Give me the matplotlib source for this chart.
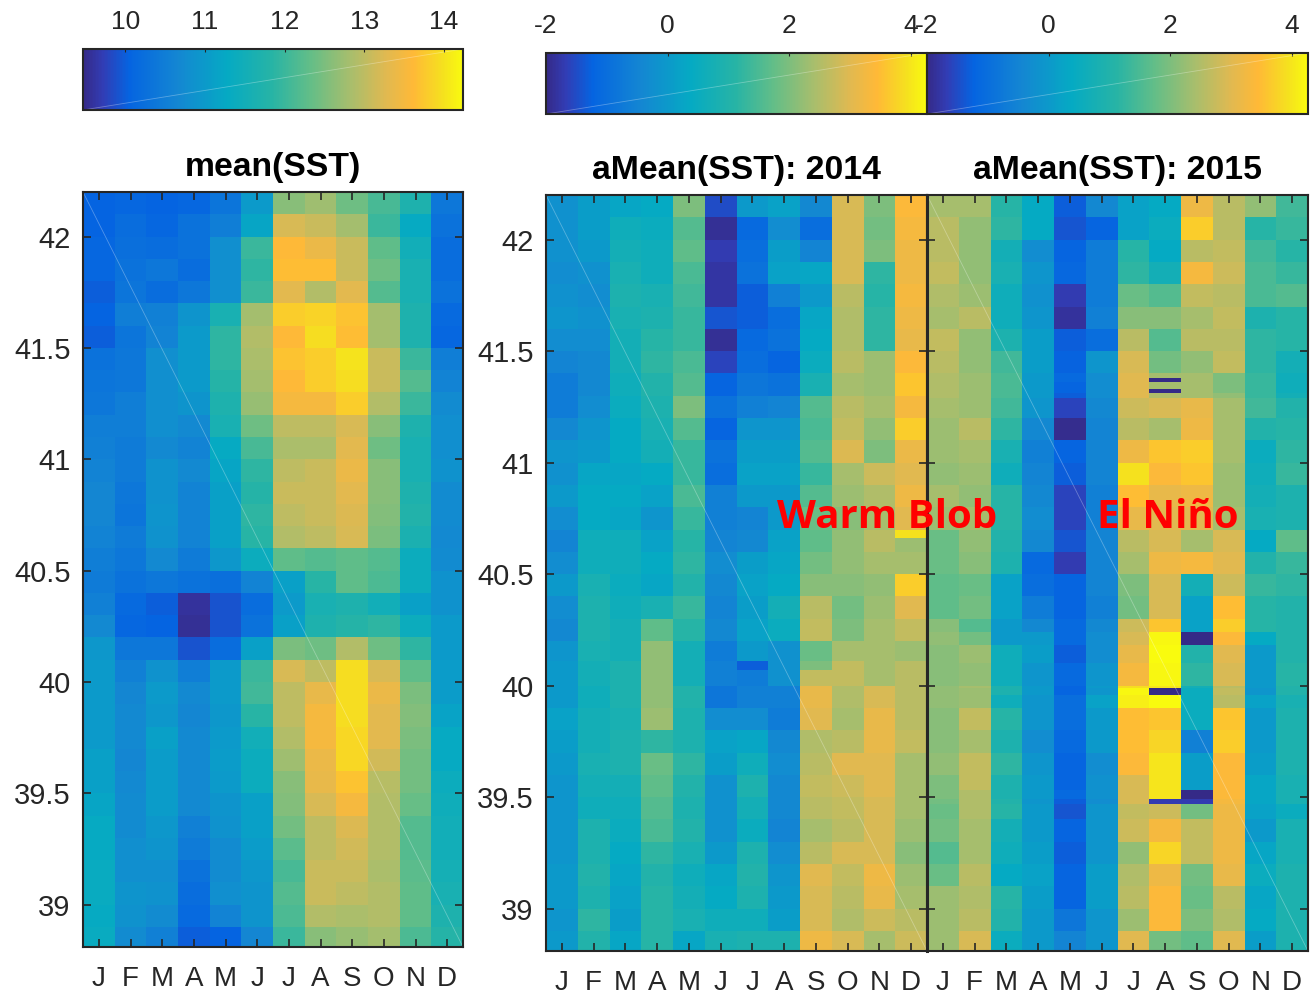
import matplotlib
matplotlib.use("Agg")
import matplotlib.pyplot as plt
from matplotlib.cm import ScalarMappable
from matplotlib.colors import LinearSegmentedColormap, Normalize

plt.rcParams["font.family"] = ["Liberation Sans", "DejaVu Sans"]

# Data
months = ["J", "F", "M", "A", "M", "J", "J", "A", "S", "O", "N", "D"]
lat_ticks = [39, 39.5, 40, 40.5, 41, 41.5, 42]
lat_labels = ["39", "39.5", "40", "40.5", "41", "41.5", "42"]

lat_edges = [42.2, 42.1, 42.0, 41.9, 41.8, 41.7, 41.6, 41.5, 41.4, 41.3, 41.2, 41.1,
             41.0, 40.9, 40.8, 40.7, 40.6, 40.5, 40.4, 40.3, 40.2, 40.1, 40.0, 39.9,
             39.8, 39.7, 39.6, 39.5, 39.4, 39.3, 39.2, 39.1, 39.0, 38.9, 38.8]

sst_mean = [
    [10.05, 10.1, 10.05, 10.1, 10.35, 11.0, 12.6, 12.75, 12.4, 12.1, 11.7, 10.4],
    [10.05, 10.2, 10.1, 10.3, 10.5, 11.2, 13.2, 13.1, 12.8, 12.0, 11.3, 10.3],
    [10.1, 10.25, 10.2, 10.3, 10.8, 12.0, 13.6, 13.4, 13.1, 12.3, 11.5, 10.2],
    [10.1, 10.3, 10.4, 10.2, 10.8, 11.9, 13.65, 13.65, 13.1, 12.4, 11.6, 10.2],
    [10.0, 10.35, 10.2, 10.4, 10.8, 12.0, 13.3, 12.9, 13.3, 12.2, 11.6, 10.3],
    [10.05, 10.5, 10.55, 10.9, 11.6, 12.8, 13.8, 13.85, 13.7, 12.8, 11.7, 10.15],
    [10.0, 10.35, 10.6, 11.0, 11.9, 12.9, 13.6, 13.95, 13.65, 12.8, 11.7, 10.1],
    [10.3, 10.4, 10.8, 11.0, 11.9, 12.85, 13.7, 13.8, 14.0, 13.1, 12.0, 10.5],
    [10.35, 10.4, 10.8, 11.0, 11.8, 12.8, 13.6, 13.8, 13.95, 13.1, 12.2, 10.6],
    [10.4, 10.5, 10.8, 10.9, 11.7, 12.7, 13.5, 13.5, 13.8, 12.9, 12.0, 10.75],
    [10.5, 10.5, 10.8, 10.7, 11.6, 12.4, 13.0, 13.0, 13.2, 12.6, 11.7, 10.8],
    [10.55, 10.45, 10.7, 10.6, 11.3, 12.1, 12.85, 12.85, 13.3, 12.4, 11.6, 10.8],
    [10.6, 10.45, 10.85, 10.7, 11.2, 11.9, 13.0, 13.1, 13.4, 12.6, 11.6, 10.85],
    [10.65, 10.4, 10.85, 10.6, 11.1, 11.8, 13.1, 13.1, 13.3, 12.6, 11.7, 10.75],
    [10.65, 10.35, 10.9, 10.6, 11.1, 11.9, 13.0, 13.1, 13.25, 12.55, 11.75, 10.75],
    [10.6, 10.45, 10.85, 10.6, 11.1, 11.85, 12.9, 13.0, 13.2, 12.5, 11.65, 10.7],
    [10.5, 10.4, 10.7, 10.45, 10.95, 11.4, 12.3, 12.2, 12.3, 12.2, 11.4, 10.75],
    [10.45, 10.3, 10.4, 10.3, 10.25, 10.6, 11.1, 11.85, 12.3, 12.15, 11.4, 10.85],
    [10.55, 10.15, 10.0, 9.6, 9.9, 10.2, 11.0, 11.6, 11.7, 11.5, 11.1, 10.85],
    [10.7, 10.1, 10.05, 9.55, 9.9, 10.3, 11.1, 11.7, 11.8, 11.9, 11.4, 11.0],
    [10.95, 10.4, 10.4, 9.9, 10.2, 11.1, 12.5, 12.4, 12.9, 12.4, 11.9, 11.0],
    [11.0, 10.55, 10.85, 10.5, 11.0, 12.0, 13.2, 13.0, 13.95, 13.2, 12.3, 11.05],
    [11.0, 10.65, 11.0, 10.7, 11.0, 12.05, 13.0, 13.35, 13.95, 13.4, 12.5, 11.05],
    [11.0, 10.7, 10.95, 10.65, 10.95, 11.85, 13.0, 13.5, 13.95, 13.3, 12.55, 11.15],
    [11.0, 10.7, 11.1, 10.7, 11.0, 11.5, 12.9, 13.5, 13.9, 13.3, 12.5, 11.3],
    [11.1, 10.65, 11.05, 10.7, 11.05, 11.4, 12.75, 13.4, 13.9, 13.15, 12.45, 11.3],
    [11.1, 10.7, 11.05, 10.7, 11.0, 11.4, 12.6, 13.35, 13.7, 12.95, 12.45, 11.4],
    [11.2, 10.75, 11.05, 10.7, 10.9, 11.1, 12.55, 13.2, 13.5, 12.9, 12.35, 11.45],
    [11.3, 10.75, 10.95, 10.55, 10.85, 11.1, 12.45, 13.0, 13.25, 12.9, 12.2, 11.5],
    [11.3, 10.8, 10.9, 10.45, 10.75, 11.05, 12.25, 13.0, 13.15, 12.9, 12.2, 11.5],
    [11.35, 10.8, 10.8, 10.3, 10.75, 10.95, 12.1, 13.1, 13.1, 12.85, 12.25, 11.55],
    [11.35, 10.9, 10.85, 10.2, 10.8, 10.9, 12.2, 13.1, 13.0, 12.9, 12.3, 11.6],
    [11.3, 10.85, 10.75, 10.15, 10.6, 10.9, 12.15, 12.9, 12.85, 12.9, 12.3, 11.7],
    [11.35, 10.75, 10.55, 10.0, 10.05, 10.65, 12.0, 12.6, 12.7, 12.8, 12.15, 11.8],
]

lat_edges_2014 = [42.2, 42.1, 42.0, 41.9, 41.8, 41.7, 41.6, 41.5, 41.4, 41.3, 41.2, 41.1,
                  41.0, 40.9, 40.8, 40.7, 40.66, 40.6, 40.5, 40.4, 40.3, 40.2, 40.11, 40.07,
                  40.0, 39.9, 39.8, 39.7, 39.6, 39.5, 39.4, 39.3, 39.2, 39.1, 39.0, 38.9, 38.8]

anom_2014 = [
    [-0.2, 0.1, 0.3, 0.4, 2.0, -1.5, 0.0, 0.2, -0.4, 2.9, 2.0, 3.4],
    [-0.2, 0.1, 0.6, 0.5, 1.6, -1.9, -1.1, -0.3, -1.0, 2.9, 1.9, 3.3],
    [-0.2, 0.0, 0.7, 0.6, 1.7, -1.7, -1.0, 0.1, -0.5, 2.9, 2.0, 3.2],
    [-0.3, -0.2, 0.8, 0.6, 1.5, -1.8, -0.9, 0.2, 0.3, 2.9, 1.2, 3.2],
    [-0.2, -0.3, 0.9, 0.8, 1.4, -1.8, -1.3, -0.6, 0.0, 2.6, 1.1, 3.3],
    [-0.1, -0.2, 0.8, 0.9, 1.3, -1.4, -1.3, -1.0, 0.3, 2.5, 1.2, 3.2],
    [-0.3, -0.3, 0.7, 1.1, 1.3, -1.9, -1.1, -0.9, 0.4, 2.5, 1.2, 3.1],
    [-0.5, -0.4, 0.7, 1.2, 1.5, -1.6, -1.0, -1.2, 0.5, 2.6, 2.3, 3.4],
    [-0.7, -0.4, 0.6, 1.0, 1.6, -1.2, -0.8, -0.9, 0.8, 2.4, 2.3, 3.6],
    [-0.7, -0.3, 0.5, 0.9, 2.0, -0.9, -0.6, -0.5, 1.6, 2.6, 2.4, 3.3],
    [-0.4, -0.1, 0.4, 0.8, 1.6, -1.2, -0.1, -0.1, 1.5, 2.7, 2.2, 3.7],
    [-0.1, 0.0, 0.4, 0.7, 1.3, -0.9, 0.1, 0.1, 1.6, 2.95, 2.0, 3.15],
    [-0.2, 0.3, 0.3, 0.4, 1.3, -1.0, 0.2, 0.2, 1.3, 2.4, 2.8, 3.0],
    [0.0, 0.4, 0.4, 0.2, 1.5, -0.6, 0.0, 0.0, 1.6, 2.3, 2.5, 3.2],
    [-0.3, 0.4, 0.3, -0.1, 1.3, -0.6, -0.5, 0.0, 1.8, 2.1, 2.4, 3.0],
    [-0.5, 0.6, 0.6, 0.2, 1.1, -0.5, -0.4, 0.2, 1.7, 2.2, 2.6, 3.95],
    [-0.5, 0.6, 0.6, 0.2, 1.1, -0.5, -0.4, 0.2, 1.7, 2.2, 2.6, 2.3],
    [-0.3, 0.6, 0.6, 0.4, 1.2, -0.3, 0.1, 0.3, 1.9, 2.2, 2.4, 2.4],
    [0.0, 0.8, 0.5, 0.3, 1.0, -0.4, 0.2, 0.4, 2.1, 2.1, 2.2, 3.7],
    [-0.3, 0.9, 0.6, 0.8, 1.3, -0.5, 0.1, 0.7, 2.6, 1.9, 2.3, 3.0],
    [-0.4, 0.9, 0.7, 1.7, 1.1, -0.4, 0.2, 0.5, 2.7, 2.0, 2.4, 2.7],
    [-0.1, 0.8, 0.7, 2.2, 0.7, -0.7, 0.0, -0.2, 1.8, 2.4, 2.4, 2.3],
    [0.0, 0.7, 0.9, 2.2, 0.7, -0.6, -1.3, -0.2, 2.0, 2.7, 2.4, 2.6],
    [0.0, 0.7, 0.9, 2.2, 0.7, -0.6, -0.7, -0.2, 2.7, 2.7, 2.4, 2.6],
    [0.0, 0.6, 0.9, 2.2, 1.0, -0.8, -0.6, -0.6, 3.1, 2.5, 2.9, 2.6],
    [0.2, 0.7, 0.8, 2.3, 0.9, -0.3, -0.3, -0.7, 3.0, 2.4, 3.1, 2.6],
    [0.1, 0.7, 0.9, 1.2, 0.9, 0.2, 0.3, -0.4, 2.5, 2.6, 3.1, 2.7],
    [0.0, 0.8, 0.9, 1.8, 1.2, 0.1, 0.6, -0.3, 2.6, 3.0, 3.0, 2.4],
    [-0.1, 0.7, 0.7, 1.7, 1.0, -0.2, 0.9, -0.4, 2.7, 2.8, 3.0, 2.4],
    [-0.1, 0.6, 0.6, 1.6, 0.9, -0.2, 0.7, -0.4, 2.6, 2.7, 2.9, 2.4],
    [-0.1, 0.9, 0.5, 1.5, 1.0, -0.2, 0.5, -0.5, 2.4, 2.6, 2.9, 2.3],
    [-0.1, 0.9, 0.4, 1.2, 0.8, 0.0, 0.9, -0.3, 2.6, 2.9, 2.9, 2.1],
    [0.0, 1.0, 0.3, 1.0, 0.6, 0.3, 1.0, -0.1, 3.0, 2.7, 3.2, 2.3],
    [0.0, 0.9, 0.2, 1.1, 0.7, 0.4, 0.9, 0.0, 2.9, 2.6, 3.1, 2.4],
    [-0.1, 1.2, 0.1, 1.1, 0.8, 0.6, 0.6, 0.1, 2.9, 2.5, 2.8, 2.6],
    [0.0, 1.0, 0.3, 1.1, 0.3, 0.8, 0.9, 0.9, 3.2, 2.9, 2.4, 2.8],
]

lat_edges_2015 = [42.2, 42.1, 42.0, 41.9, 41.8, 41.7, 41.6, 41.5, 41.4, 41.38, 41.36, 41.33,
                  41.31, 41.29, 41.2, 41.1, 41.0, 40.9, 40.8, 40.7, 40.6, 40.5, 40.4, 40.3, 40.24,
                  40.18, 40.1, 40.0, 39.99, 39.96, 39.9, 39.8, 39.7, 39.6, 39.53, 39.49, 39.47,
                  39.4, 39.3, 39.2, 39.1, 39.0, 38.9, 38.8]

anom_2015 = [
    [2.4, 2.4, 1.1, 0.4, -1.3, -0.4, 0.2, 0.4, 3.2, 2.6, 2.2, 1.4],
    [2.6, 2.2, 1.2, 0.4, -1.4, -1.2, 0.2, 0.5, 3.7, 2.6, 1.1, 1.3],
    [2.6, 2.2, 0.7, -0.3, -1.2, -0.7, 1.1, 0.4, 2.6, 2.7, 1.4, 1.1],
    [2.7, 2.2, 0.8, -0.1, -1.15, -0.7, 1.2, 0.7, 3.3, 2.8, 1.5, 1.3],
    [2.5, 2.3, 0.6, -0.2, -1.7, -0.7, 1.8, 1.6, 2.7, 2.6, 1.5, 1.6],
    [2.4, 2.6, 0.6, -0.1, -1.85, -0.6, 2.1, 2.1, 2.4, 2.7, 0.9, 1.1],
    [2.7, 2.2, 0.9, 0.1, -1.3, -1.0, 2.6, 1.6, 2.6, 2.6, 1.2, 1.1],
    [2.6, 2.2, 1.4, 0.1, -1.25, -0.1, 2.9, 1.9, 2.2, 2.7, 1.2, 0.7],
    [2.5, 2.3, 1.5, 0.0, -1.1, -0.3, 3.0, 2.4, 2.4, 2.0, 1.3, 0.6],
    [2.5, 2.3, 1.5, 0.0, -1.1, -0.3, 3.0, -2.0, 2.4, 2.0, 1.3, 0.6],
    [2.5, 2.3, 1.5, 0.0, -1.2, -0.3, 3.0, 2.4, 2.4, 2.0, 1.3, 0.6],
    [2.5, 2.3, 1.5, 0.0, -1.2, -0.3, 3.0, -2.0, 2.4, 2.0, 1.3, 0.6],
    [2.5, 2.3, 1.5, 0.0, -1.3, -0.3, 3.0, 2.5, 2.4, 2.2, 1.3, 0.7],
    [2.4, 2.3, 1.4, -0.1, -1.6, -0.4, 2.8, 2.9, 3.1, 2.4, 1.4, 1.0],
    [2.3, 2.6, 1.2, -0.4, -1.95, -0.5, 2.6, 2.4, 3.2, 2.4, 1.0, 1.1],
    [2.3, 2.4, 0.8, -0.6, -1.2, -0.5, 3.2, 3.6, 3.7, 2.4, 0.5, 1.2],
    [2.2, 2.3, 0.6, -0.5, -1.3, -0.5, 3.95, 3.4, 3.6, 2.3, 0.6, 1.3],
    [2.4, 2.2, 1.1, -0.4, -1.6, -0.6, 3.5, 3.1, 3.2, 2.3, 0.7, 0.9],
    [2.3, 2.4, 1.1, -0.3, -1.6, -0.6, 3.1, 3.0, 3.0, 2.4, 0.8, 0.9],
    [1.8, 2.2, 1.0, -0.4, -1.4, -0.5, 2.6, 2.9, 2.4, 2.9, 0.4, 1.7],
    [1.8, 2.1, 0.9, -1.1, -1.7, -0.5, 2.4, 3.2, 3.3, 3.0, 1.0, 1.3],
    [1.7, 1.8, 0.2, -1.0, -1.2, -0.5, 2.0, 2.9, 0.7, 2.8, 1.3, 1.2],
    [1.7, 1.9, 0.2, -0.7, -1.2, -0.6, 1.9, 2.9, 0.2, 3.5, 1.1, 1.0],
    [2.1, 1.6, 0.0, -0.4, -1.1, -0.4, 2.8, 3.6, 0.2, 3.7, 1.1, 1.0],
    [2.2, 1.9, 0.0, 0.0, -1.1, -0.3, 2.9, 4.2, -2.0, 3.4, 0.4, 1.0],
    [2.1, 2.3, 0.6, 0.1, -1.3, -0.3, 3.1, 4.3, 1.0, 3.0, 0.0, 1.0],
    [2.1, 2.2, 0.6, -0.1, -1.1, -0.1, 3.3, 4.2, 1.2, 2.9, 0.0, 1.1],
    [2.2, 2.4, 0.9, 0.0, -1.2, 0.0, 3.9, 4.0, 0.7, 2.6, 0.0, 1.0],
    [2.2, 2.3, 0.9, 0.0, -1.2, -0.1, 4.2, -2.0, 0.5, 2.7, -0.1, 1.0],
    [2.2, 2.3, 0.6, -0.1, -1.0, 0.2, 4.1, 4.3, 0.5, 2.6, 0.2, 0.8],
    [2.1, 2.7, 1.1, -0.1, -1.0, 0.0, 3.5, 3.6, 0.5, 3.6, 0.0, 0.9],
    [2.1, 2.4, 0.9, -0.3, -1.1, 0.0, 3.5, 3.8, -0.6, 3.7, 0.0, 0.9],
    [2.2, 2.7, 1.2, -0.1, -1.2, -0.3, 3.4, 4.0, 0.1, 3.4, 0.1, 0.9],
    [2.0, 2.7, 0.9, 0.0, -1.2, -0.2, 2.9, 4.0, 0.1, 3.4, 0.3, 0.8],
    [2.0, 2.5, 0.9, 0.0, -1.1, -0.2, 2.9, 4.0, -2.0, 3.4, 0.3, 0.8],
    [1.9, 2.5, 1.0, -0.1, -1.3, -0.3, 2.9, -1.7, -1.7, 3.3, 0.3, 0.8],
    [1.8, 2.5, 1.1, 0.0, -1.4, -0.1, 2.7, 2.8, 1.9, 3.2, 0.2, 0.5],
    [1.9, 2.4, 0.7, 0.0, -1.2, -0.1, 2.8, 3.3, 2.7, 3.2, 0.0, 0.8],
    [1.6, 2.4, 0.6, 0.1, -1.3, -0.1, 2.2, 3.8, 2.7, 3.2, 0.3, 0.8],
    [1.8, 2.6, 0.4, 0.2, -1.2, 0.1, 2.5, 3.2, 1.9, 3.1, 0.5, 0.9],
    [2.3, 2.5, 1.1, 0.1, -1.2, 0.1, 2.6, 3.4, 1.8, 2.6, 0.3, 0.9],
    [2.3, 2.6, 1.0, 0.0, -0.8, -0.1, 2.3, 3.4, 2.0, 2.5, 0.4, 0.9],
    [2.3, 2.9, 0.5, 0.0, -0.5, -0.1, 3.0, 1.9, 1.7, 3.0, 0.1, 0.9],
]

# Colormap (parula like)
parula = LinearSegmentedColormap.from_list("parula_like", [
    (0.0, "#352a87"), (0.05, "#323cb4"), (0.12, "#0564e1"), (0.25, "#1487d2"),
    (0.38, "#05aac3"), (0.5, "#28b4a5"), (0.6, "#64be87"), (0.7, "#a5be6e"),
    (0.8, "#e1b950"), (0.87, "#ffb937"), (0.95, "#f5e11e"), (1.0, "#f9fb0e"),
])

dark = "#262626"
W, H = 1312, 996
month_edges = [m + 0.5 for m in range(13)]
month_pos = list(range(1, 13))


def px_axes(x0, y0, x1, y1):
    return fig.add_axes([x0 / W, 1 - y1 / H, (x1 - x0) / W, (y1 - y0) / H])


def heat_panel(box, edges, values, norm, title, show_lat=True):
    ax = px_axes(*box)
    ax.pcolormesh(month_edges, edges, values, cmap=parula, norm=norm, linewidth=0, rasterized=True)
    ax.set_xlim(0.5, 12.5)
    ax.set_ylim(38.81, 42.2)
    ax.set_xticks(month_pos, months)
    ax.set_yticks(lat_ticks, lat_labels if show_lat else [])
    ax.tick_params(axis="x", direction="in", top=True, length=5.5, width=1.2,
                   labelsize=20, pad=14, colors=dark)
    ax.tick_params(axis="y", direction="in", right=True, length=5.5, width=1.2,
                   labelsize=21, pad=9, colors=dark)
    for s in ax.spines.values():
        s.set_linewidth(1.5)
        s.set_color(dark)
    ax.plot([0, 1], [1, 0], transform=ax.transAxes, color="white", lw=0.6, alpha=0.3)
    ax.set_title(title, fontsize=24.3, fontweight="bold", color="black", pad=11.5)
    return ax


def color_bar(box, norm, ticks):
    cax = px_axes(*box)
    cb = fig.colorbar(ScalarMappable(norm=norm, cmap=parula), cax=cax, orientation="horizontal")
    cb.set_ticks(ticks, labels=[str(t) for t in ticks])
    cax.xaxis.set_ticks_position("top")
    cax.tick_params(axis="x", direction="in", length=2.5, width=0.8, labelsize=19, pad=11,
                    colors=dark)
    cb.outline.set_linewidth(1.5)
    cb.outline.set_edgecolor(dark)
    cax.plot([0, 1], [0, 1], transform=cax.transAxes, color="white", lw=0.6, alpha=0.3)


fig = plt.figure(figsize=(W / 100, H / 100), dpi=100)

norm_mean = Normalize(9.47, 14.24)
norm_anom = Normalize(-2, 4.27)

heat_panel((83, 192, 463, 947), lat_edges, sst_mean, norm_mean, "mean(SST)")
heat_panel((546, 195, 927, 951), lat_edges_2014, anom_2014, norm_anom, "aMean(SST): 2014")
ax_2015 = heat_panel((927, 195, 1308, 951), lat_edges_2015, anom_2015, norm_anom,
                     "aMean(SST): 2015", show_lat=False)
ax_2015.spines["left"].set_linewidth(2.2)

color_bar((83, 49, 463, 110), norm_mean, [10, 11, 12, 13, 14])
color_bar((546, 53, 927, 114), norm_anom, [-2, 0, 2, 4])
color_bar((927, 53, 1308, 114), norm_anom, [-2, 0, 2, 4])

# Annotations
fig.text(887 / W, 1 - 517 / H, "Warm Blob", color="red", fontsize=29, fontweight="bold",
         family="Open Sans", ha="center", va="center")
fig.text(1168 / W, 1 - 517 / H, "El Niño", color="red", fontsize=29, fontweight="bold",
         family="Open Sans", ha="center", va="center")

fig.savefig("out.png", dpi=100)
